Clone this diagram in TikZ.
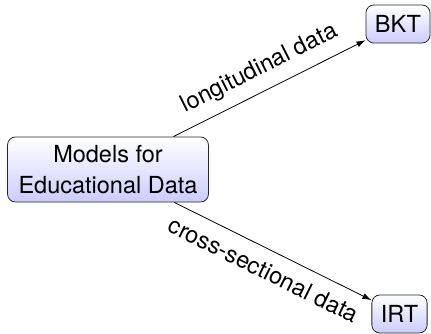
\documentclass[tikz,border=0pt]{standalone}
\usepackage{fontspec}
\setmainfont{TeX Gyre Heros}
\usetikzlibrary{arrows.meta}
\begin{document}
\begin{tikzpicture}[x=1pt,y=-1pt,
  box/.style={draw=black!85, line width=0.8pt, rounded corners=8pt, top color=white, bottom color=blue!20, font=\fontsize{23.5}{31.5}\selectfont, align=center},
  conn/.style={-{Latex[length=9pt,width=6pt]}, line width=0.8pt},
  lab/.style={font=\fontsize{23.5}{28}\selectfont, sloped, midway}]
\useasboundingbox (0,0) rectangle (431,333);
\node[box, inner xsep=11pt, inner ysep=8pt] (m) at (108,169.5) {Models for\\Educational Data};
\node[box, inner xsep=9pt, minimum height=38pt] (b) at (398,24) {BKT};
\node[box, inner xsep=9pt, minimum height=38pt] (i) at (399.5,314) {IRT};
\draw[conn] (m) -- node[lab, above=7pt] {longitudinal data} (b);
\draw[conn] (m) -- node[lab, below=8pt] {cross-sectional data} (i);
\end{tikzpicture}
\end{document}
